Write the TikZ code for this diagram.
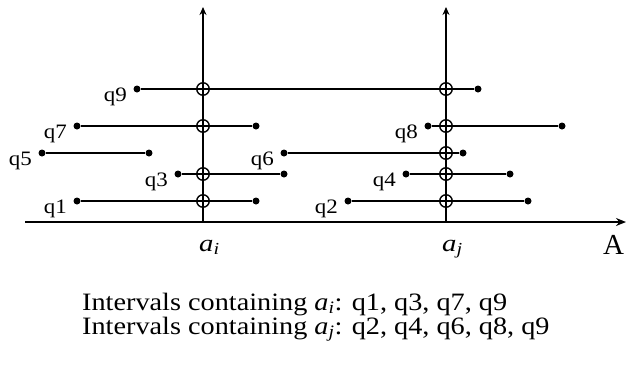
\documentclass[tikz,border=0pt]{standalone}
\usepackage{fontspec}
\setmainfont{Liberation Serif}
\usetikzlibrary{arrows.meta,positioning,calc}

\newcommand{\apt}[1]{\textit{a}\textsubscript{\textit{#1}}}
\newcommand{\wide}[2][1.13]{\scalebox{#1}[1]{#2}}

\begin{document}
\begin{tikzpicture}[
    x=1pt, y=-1pt,
    >=Stealth,
    axis/.style={->, line width=2.8pt, >={Stealth[length=10pt, width=8pt]}},
    probe/.style={->, line width=2pt, >={Stealth[length=8pt, width=7pt]}},
    interval/.style={line width=2pt},
    endpt/.style={circle, fill=black, minimum size=7pt, inner sep=0pt},
    hit/.style={circle, draw, line width=1.4pt, minimum size=12.5pt, inner sep=0pt},
    qlabel/.style={font=\fontsize{20.5}{24}\selectfont, inner sep=0pt, anchor=base east},
    ptlabel/.style={font=\fontsize{24}{28}\selectfont, inner sep=0pt, anchor=base west},
    caption/.style={font=\fontsize{25}{23}\selectfont, inner sep=0pt, anchor=base west},
]
\useasboundingbox (0,0) rectangle (626,365);

\def\xai{203}   % position of a_i
\def\xaj{446}   % position of a_j
\def\yaxis{222} % the A axis

% axis and the two query points
\coordinate (O) at (25,\yaxis);
\coordinate (Aend) at (626,\yaxis);
\coordinate (Ibase) at (\xai,\yaxis);
\coordinate (Itop) at (\xai,7);
\coordinate (Jbase) at (\xaj,\yaxis);
\coordinate (Jtop) at (\xaj,7);
\draw[probe] (Ibase) -- (Itop);
\draw[probe] (Jbase) -- (Jtop);
\draw[axis] (O) -- (Aend);

% intervals: name / left end / right end / height
\foreach \n/\l/\r/\y in {q1/77/256/201, q3/178/284/174, q5/42/149/153,
                         q7/77/256/126, q9/137/478/89, q2/348/528/201,
                         q4/406/510/174, q6/284/463/153, q8/428/562/126} {
    \node[endpt] (\n-l) at (\l,\y) {};
    \node[endpt] (\n-r) at (\r,\y) {};
    \draw[interval] (\n-l) -- (\n-r);
    \node[qlabel] (\n) at ($(\n-l)+(-10,12.5)$) {\wide[1.12]{\n}};
}

% intervals that contain a_i
\foreach \n/\y in {q1/201, q3/174, q7/126, q9/89}
    \node[hit] (\n-i) at (\xai,\y) {};
% intervals that contain a_j
\foreach \n/\y in {q2/201, q4/174, q6/153, q8/126, q9/89}
    \node[hit] (\n-j) at (\xaj,\y) {};

\node[ptlabel] (ai) at (199,251) {\wide[1.2]{\apt{i}}};
\node[ptlabel] (aj) at (442,251) {\wide[1.2]{\apt{j}}};
\node[ptlabel, font=\fontsize{29}{30}\selectfont] (A) at (603,254) {A};

\node[caption] (cap1) at (82,310) {\wide{Intervals containing \apt{i}: q1, q3, q7, q9}};
\node[caption] (cap2) at (82,334) {\wide{Intervals containing \apt{j}: q2, q4, q6, q8, q9}};
\end{tikzpicture}
\end{document}
